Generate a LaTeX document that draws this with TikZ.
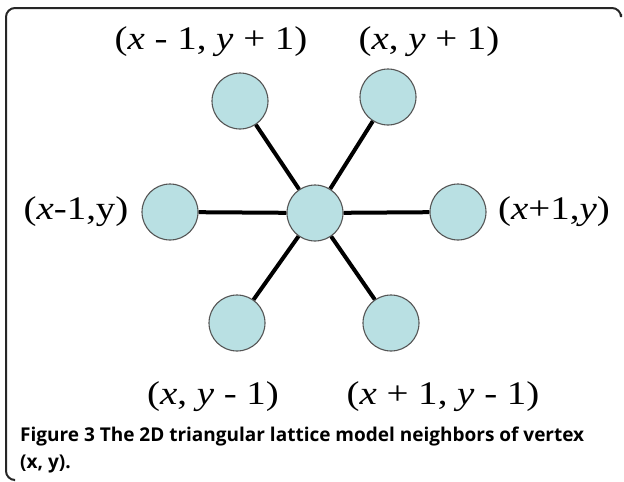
\documentclass[tikz,border=0pt]{standalone}
\usepackage{fontspec}
\setmainfont{Liberation Serif}
\newfontfamily\lblfont[FakeStretch=1.18]{Liberation Serif}
\newfontfamily\capfont{Open Sans}
\definecolor{nodefill}{HTML}{B9E0E3}
\definecolor{nodeedge}{HTML}{555555}
\begin{document}
\begin{tikzpicture}[x=1pt,y=-1pt,
  vert/.style={circle, fill=nodefill, draw=nodeedge, line width=1.1pt, minimum size=56pt, inner sep=0pt},
  edge/.style={line width=4pt, black},
  lbl/.style={inner sep=0pt, font=\lblfont\fontsize{33}{36}\selectfont},
  captext/.style={inner sep=0pt, anchor=west, font=\capfont\bfseries\fontsize{19}{22}\selectfont}]
\useasboundingbox (0,0) rectangle (624,482);
\draw[line width=2pt, rounded corners=9pt, black!85] (621,14) -- (621,8) -- (6,8) -- (6,480) -- (14,480);
\node[vert] (c)  at (315,213) {};
\node[vert] (l)  at (170,212) {};
\node[vert] (r)  at (458,212) {};
\node[vert] (tl) at (240,101) {};
\node[vert] (tr) at (388,97) {};
\node[vert] (bl) at (237,323) {};
\node[vert] (br) at (391,323) {};
\foreach \n in {l,r,tl,tr,bl,br}{\draw[edge] (c) -- (\n);}
\node[lbl] (tlL) at (211,42) {(\textit{x} - 1, \textit{y} + 1)};
\node[lbl] (trL) at (429,42) {(\textit{x}, \textit{y} + 1)};
\node[lbl] (lL)  at (76,212) {(\textit{x}-1,y)};
\node[lbl] (rL)  at (554,212) {(\textit{x}+1,\textit{y})};
\node[lbl] (blL) at (213,397) {(\textit{x}, \textit{y} - 1)};
\node[lbl] (brL) at (443,397) {(\textit{x} + 1, \textit{y} - 1)};
\node[captext] (cap1) at (20,437) {Figure 3 The 2D triangular lattice model neighbors of vertex};
\node[captext] (cap2) at (20,464) {(x, y).};
\end{tikzpicture}
\end{document}
